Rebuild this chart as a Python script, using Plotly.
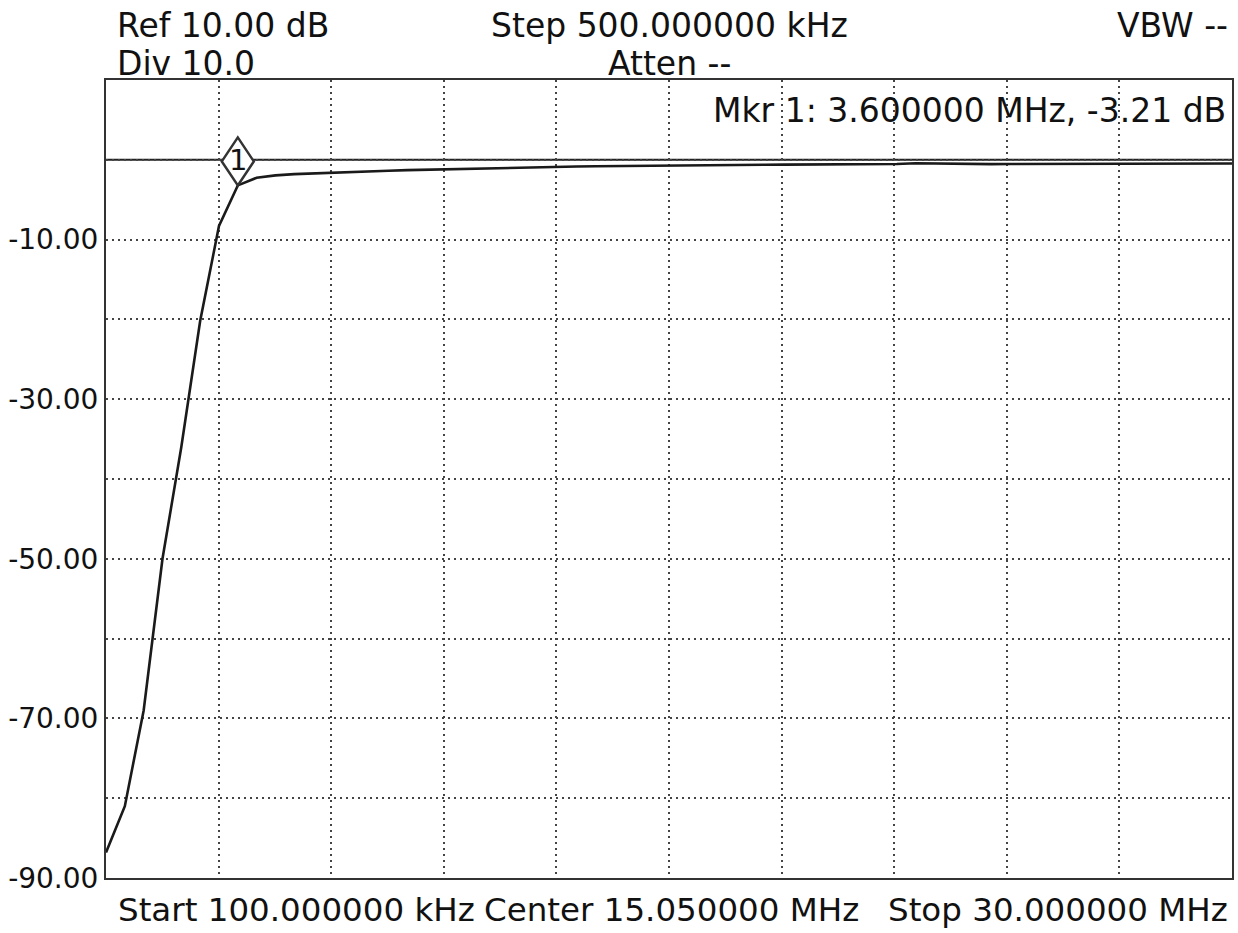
import plotly.graph_objects as go

# ---- data ----
freq_mhz = [0.1, 0.6, 1.1, 1.6, 2.1, 2.6, 3.1, 3.6, 4.1, 4.6, 5.1, 5.6, 6.1, 6.6, 7.1, 7.6,
            8.1, 8.6, 9.1, 9.6, 10.1, 10.6, 11.1, 11.6, 12.1, 12.6, 13.1, 13.6, 14.1, 14.6,
            15.1, 15.6, 16.1, 16.6, 17.1, 17.6, 18.1, 18.6, 19.1, 19.6, 20.1, 20.6, 21.1,
            21.6, 22.1, 22.6, 23.1, 23.6, 24.1, 24.6, 25.1, 25.6, 26.1, 26.6, 27.1, 27.6,
            28.1, 28.6, 29.1, 29.6, 30.0]
level_db = [-86.8, -81.0, -69.0, -50.0, -36.0, -20.2, -8.3, -3.21, -2.25, -1.95, -1.80, -1.70,
            -1.60, -1.52, -1.44, -1.37, -1.30, -1.24, -1.18, -1.12, -1.06, -1.01, -0.96, -0.92,
            -0.87, -0.84, -0.81, -0.78, -0.76, -0.74, -0.71, -0.69, -0.67, -0.65, -0.63, -0.62,
            -0.61, -0.60, -0.59, -0.58, -0.56, -0.55, -0.52, -0.43, -0.47, -0.54, -0.55, -0.54,
            -0.53, -0.53, -0.52, -0.51, -0.51, -0.50, -0.50, -0.49, -0.49, -0.48, -0.48, -0.47,
            -0.47]

start_mhz = 0.1
stop_mhz = 30.0
ref_db = 10.0
div_db = 10.0
n_div = 10
ref_line_db = 0.0

y_tick_vals = [-10, -30, -50, -70, -90]
y_tick_text = ["-10.00", "-30.00", "-50.00", "-70.00", "-90.00"]

marker_freq = 3.6
marker_db = -3.21
marker_label = "1"

header_left = ["Ref 10.00 dB", "Div 10.0"]
header_center = ["Step 500.000000 kHz", "Atten --"]
header_right = "VBW --"
marker_text = "Mkr 1: 3.600000 MHz, -3.21 dB"
footer = ["Start 100.000000 kHz", "Center 15.050000 MHz", "Stop 30.000000 MHz"]

FONT = "DejaVu Sans"
HFS = 33

fig = go.Figure()
fig.add_trace(go.Scatter(x=freq_mhz, y=level_db, mode="lines",
                         line=dict(color="#1a1a1a", width=2.6), hoverinfo="skip",
                         showlegend=False))

# reference line
fig.add_shape(type="line", xref="paper", x0=0, x1=1, yref="y", y0=ref_line_db, y1=ref_line_db,
              line=dict(color="#222", width=2), layer="below")

# marker diamond
fig.add_shape(type="path", xref="x", yref="y", xsizemode="pixel", ysizemode="pixel",
              xanchor=marker_freq, yanchor=marker_db,
              path="M 0 0 L -16 24 L 0 48 L 16 24 Z",
              line=dict(color="#333", width=2.5), fillcolor="white", layer="above")
fig.add_annotation(x=marker_freq, y=marker_db, xref="x", yref="y", text=marker_label,
                   showarrow=False, yshift=25, font=dict(family=FONT, size=29, color="#111"))

span = stop_mhz - start_mhz
fig.update_xaxes(range=[start_mhz, stop_mhz], tick0=start_mhz, dtick=span / n_div,
                 showgrid=True, gridcolor="#444", gridwidth=2, griddash="2px,4px",
                 showticklabels=False, ticks="", zeroline=False,
                 showline=True, linecolor="#333", linewidth=2, mirror=True)
fig.update_yaxes(range=[ref_db - n_div * div_db, ref_db], tickmode="array",
                 tickvals=y_tick_vals, ticktext=y_tick_text, ticks="",
                 tickfont=dict(family=FONT, size=28, color="#111"),
                 showgrid=False, zeroline=False,
                 showline=True, linecolor="#333", linewidth=2, mirror=True)
fig.update_yaxes(minor=dict(tickmode="linear", tick0=ref_db, dtick=div_db, showgrid=True,
                            gridcolor="#444", gridwidth=2, griddash="2px,4px", ticks=""))

ann = dict(showarrow=False, xref="paper", yref="paper", font=dict(family=FONT, size=HFS, color="#111"))
fig.add_annotation(text=header_left[0], x=0, xshift=9, xanchor="left", y=1.0677, yanchor="middle", **ann)
fig.add_annotation(text=header_left[1], x=0, xshift=9, xanchor="left", y=1.0207, yanchor="middle", **ann)
fig.add_annotation(text=header_center[0], x=0.5, xanchor="center", y=1.0677, yanchor="middle", **ann)
fig.add_annotation(text=header_center[1], x=0.5, xanchor="center", y=1.0207, yanchor="middle", **ann)
fig.add_annotation(text=header_right, x=0.9956, xshift=3, xanchor="right", y=1.0677, yanchor="middle", **ann)
fig.add_annotation(text=marker_text, x=0.9929, xshift=4, xanchor="right", y=0.9624, yanchor="middle", **ann)
ann_f = dict(ann, font=dict(family=FONT, size=32.5, color="#111"))
fig.add_annotation(text=footer[0], x=0.0115, xshift=-3, xanchor="left", y=-0.0401, yanchor="middle", **ann_f)
fig.add_annotation(text=footer[1], x=0.5, xshift=2, xanchor="center", y=-0.0401, yanchor="middle", **ann_f)
fig.add_annotation(text=footer[2], x=0.9947, xshift=4, xanchor="right", y=-0.0401, yanchor="middle", **ann_f)

fig.update_layout(width=1238, height=933, margin=dict(l=106, r=4, t=80, b=55),
                  paper_bgcolor="white", plot_bgcolor="white", showlegend=False,
                  font=dict(family=FONT))

fig.write_html("out.html", config={"displayModeBar": False},
               post_script="document.body.style.margin='0';document.body.style.overflow='hidden';")
